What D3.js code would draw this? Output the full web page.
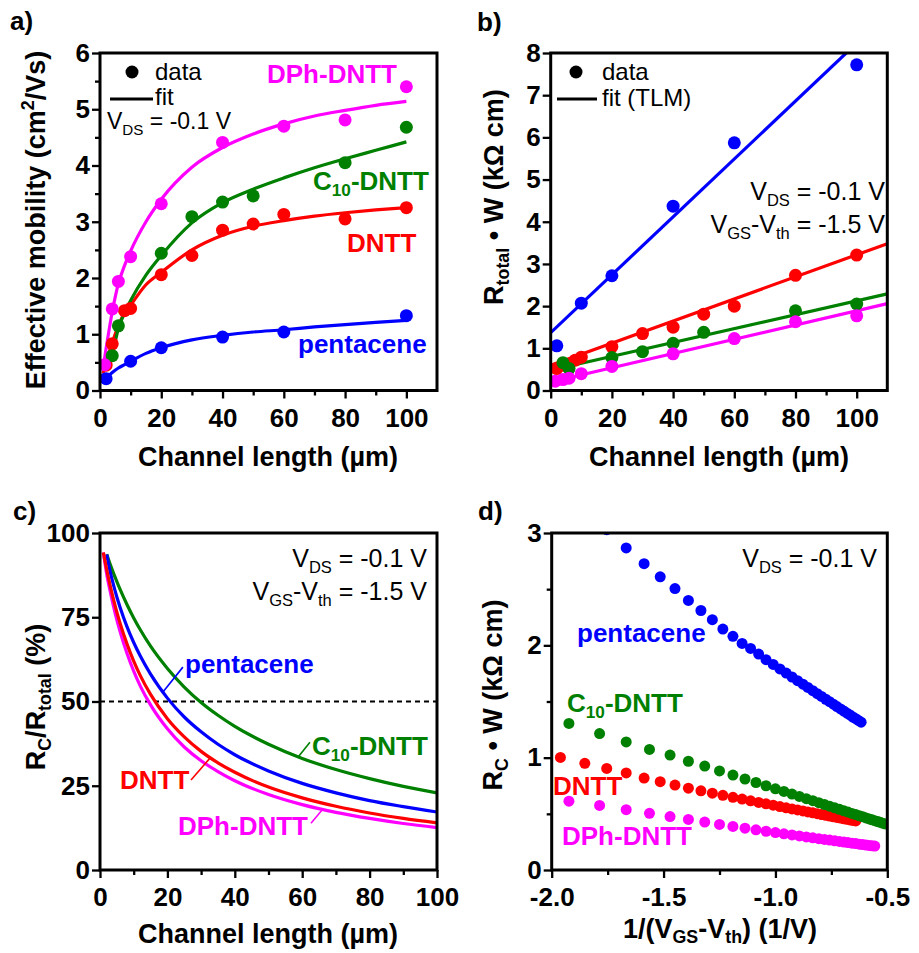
<!DOCTYPE html>
<html><head><meta charset="utf-8">
<script src="https://cdn.jsdelivr.net/npm/d3@7"></script>
<style>body{margin:0;background:#fff}svg{display:block}text{font-family:'Liberation Sans',Arial,Helvetica,sans-serif;white-space:pre}</style>
</head><body><svg id="c" width="919" height="953"></svg>
<script>
const BLUE="#0000ff", RED="#ff0000", GREEN="#008000", MAG="#ff00ff";

// ---------- Panel a: effective mobility vs channel length ----------
const a_L_pent=[2,10,20,40,60,100];
const a_mu_pent=[0.21,0.52,0.76,0.95,1.04,1.33];
const a_L_dntt=[2,4,8,10,20,30,40,50,60,80,100];
const a_mu_dntt=[0.45,0.83,1.42,1.46,2.06,2.40,2.85,2.96,3.13,3.05,3.25];
const a_L_c10=[4,6,20,30,40,50,80,100];
const a_mu_c10=[0.62,1.15,2.44,3.09,3.35,3.46,4.05,4.68];
const a_L_dph=[1.5,4,6,10,20,40,60,80,100];
const a_mu_dph=[0.46,1.45,1.94,2.38,3.32,4.41,4.70,4.81,5.40];
const a_fitL=[1,2,4,6,8,10,15,20,30,40,50,60,70,80,90,100];
const a_fit_pent=[0.17,0.22,0.32,0.40,0.46,0.52,0.66,0.76,0.90,0.98,1.04,1.08,1.13,1.17,1.21,1.245];
const a_fit_dntt=[0.30,0.50,0.85,1.15,1.38,1.52,1.88,2.10,2.50,2.76,2.92,3.02,3.10,3.16,3.21,3.25];
const a_fit_dph=[0.40,0.75,1.40,1.90,2.22,2.48,3.00,3.40,3.97,4.32,4.56,4.74,4.88,4.98,5.07,5.14];
const a_fitL_c10=[4,6,8,10,15,20,30,40,50,60,70,80,90,100];
const a_fit_c10=[0.62,1.10,1.38,1.60,2.05,2.40,2.98,3.34,3.58,3.78,3.96,4.12,4.27,4.42];
const a_xTicks=[0,20,40,60,80,100], a_xMinor=[10,30,50,70,90];
const a_yTicks=[0,1,2,3,4,5,6], a_yMinor=[0.5,1.5,2.5,3.5,4.5,5.5];

// ---------- Panel b: total resistance vs channel length ----------
const b_L_pent=[2,10,20,40,60,100];
const b_R_pent=[1.06,2.07,2.72,4.37,5.87,7.72];
const b_L_dntt=[2,4,8,10,20,30,40,50,60,80,100];
const b_R_dntt=[0.52,0.60,0.72,0.79,1.04,1.35,1.50,1.81,2.00,2.73,3.21];
const b_L_c10=[4,6,20,30,40,50,80,100];
const b_R_c10=[0.66,0.52,0.78,0.92,1.12,1.38,1.89,2.05];
const b_L_dph=[1.5,4,6,10,20,40,60,80,100];
const b_R_dph=[0.22,0.26,0.29,0.40,0.57,0.87,1.23,1.63,1.77];
const b_fitL=[0,110];
const b_fit_pent=[1.37,8.92];
const b_fit_dntt=[0.60,3.48];
const b_fit_c10=[0.48,2.29];
const b_fit_dph=[0.20,2.06];
const b_xTicks=[0,20,40,60,80,100], b_xMinor=[10,30,50,70,90];
const b_yTicks=[0,1,2,3,4,5,6,7,8];

// ---------- Panel c: contact resistance fraction ----------
const c_L=[1,2,3,4,5,6,8,10,12,15,20,25,30,35,40,50,60,70,80,90,100];
const c_green=[null,93.7,90.8,88.1,85.6,83.2,78.8,74.8,71.2,66.4,59.8,54.3,49.7,45.9,42.6,37.3,33.1,29.8,27.1,24.8,22.9];
const c_blue=[null,93.6,88.6,84.6,81.0,77.8,72.2,67.5,63.4,58.1,51.0,45.4,41.0,37.3,34.2,29.4,25.7,22.9,20.6,18.8,17.2];
const c_red=[94.2,89.1,84.5,80.3,76.5,73.1,67.1,62.0,57.6,52.1,44.9,39.5,35.2,31.8,29.0,24.6,21.4,18.9,16.9,15.3,14.0];
const c_mag=[94.2,87.8,82.8,78.3,74.2,70.6,64.3,59.0,54.5,49.0,41.9,36.5,32.4,29.2,26.5,22.4,19.4,17.1,15.3,13.8,12.6];
const c_half=[0,100];
const c_xTicks=[0,20,40,60,80,100], c_xMinor=[10,30,50,70,90];
const c_yTicks=[0,25,50,75,100];

// ---------- Panel d: contact resistance vs 1/(VGS-Vth) ----------
const d_x_dph=[-1.923,-1.786,-1.667,-1.563,-1.471,-1.389,-1.316,-1.250,-1.190,-1.136,-1.087,-1.042,-1.000,-0.962,-0.926,-0.893,-0.862,-0.833,-0.806,-0.781,-0.758,-0.735,-0.714,-0.694,-0.676,-0.658,-0.641,-0.625,-0.610,-0.595,-0.581,-0.568,-0.556];
const d_y_dph=[0.613,0.575,0.537,0.505,0.476,0.450,0.427,0.406,0.388,0.372,0.358,0.345,0.333,0.322,0.312,0.303,0.294,0.286,0.279,0.272,0.266,0.260,0.254,0.249,0.244,0.239,0.235,0.230,0.226,0.222,0.219,0.216,0.213];
const d_x_c10=[-1.923,-1.786,-1.667,-1.563,-1.471,-1.389,-1.316,-1.250,-1.190,-1.136,-1.087,-1.042,-1.000,-0.962,-0.926,-0.893,-0.862,-0.833,-0.806,-0.781,-0.758,-0.735,-0.714,-0.694,-0.676,-0.658,-0.641,-0.625,-0.610,-0.595,-0.581,-0.568,-0.556,-0.543,-0.532,-0.521,-0.510];
const d_y_c10=[1.305,1.215,1.140,1.073,1.023,0.968,0.925,0.882,0.845,0.810,0.779,0.750,0.723,0.699,0.676,0.655,0.635,0.617,0.599,0.583,0.568,0.554,0.540,0.527,0.516,0.504,0.493,0.483,0.474,0.464,0.455,0.447,0.439,0.431,0.424,0.417,0.410];
const d_x_dntt=[-1.961,-1.852,-1.754,-1.667,-1.587,-1.515,-1.449,-1.389,-1.333,-1.282,-1.235,-1.190,-1.149,-1.111,-1.075,-1.042,-1.010,-0.980,-0.952,-0.926,-0.901,-0.877,-0.855,-0.833,-0.813,-0.794,-0.775,-0.758,-0.741,-0.725,-0.709,-0.694,-0.680,-0.667,-0.654,-0.641];
const d_y_dntt=[1.002,0.950,0.904,0.864,0.818,0.786,0.756,0.728,0.705,0.684,0.665,0.647,0.631,0.616,0.602,0.589,0.577,0.565,0.554,0.544,0.535,0.526,0.517,0.509,0.501,0.494,0.487,0.480,0.474,0.468,0.462,0.456,0.451,0.446,0.441,0.437];
const d_x_pent=[-1.754,-1.667,-1.587,-1.515,-1.449,-1.389,-1.333,-1.282,-1.235,-1.190,-1.149,-1.111,-1.075,-1.042,-1.010,-0.980,-0.952,-0.926,-0.901,-0.877,-0.855,-0.833,-0.813,-0.794,-0.775,-0.758,-0.741,-0.725,-0.709,-0.694,-0.680,-0.667,-0.654,-0.641,-0.629,-0.617];
const d_y_pent=[3.03,2.867,2.727,2.610,2.505,2.400,2.310,2.228,2.145,2.080,2.017,1.972,1.922,1.872,1.830,1.790,1.753,1.718,1.685,1.654,1.625,1.596,1.570,1.545,1.520,1.498,1.476,1.455,1.434,1.415,1.396,1.380,1.362,1.347,1.331,1.316];
const d_xTicks=[-2,-1.5,-1,-0.5], d_xTickLabels=["-2.0","-1.5","-1.0","-0.5"], d_xMinor=[-1.75,-1.25,-0.75];
const d_yTicks=[0,1,2,3], d_yMinor=[0.5,1.5,2.5];

// ================= drawing =================
const svg=d3.select("#c");
svg.append("rect").attr("width",919).attr("height",953).attr("fill","#fff");
const zip=(xs,ys)=>xs.map((v,i)=>[v,ys[i]]).filter(d=>d[1]!=null);

function rich(parent,x,y,parts,o){
  const fs=o.size;
  const t=parent.append("text").attr("x",x).attr("y",y).attr("font-size",fs)
    .attr("font-weight",o.bold?"bold":"normal").attr("fill",o.color||"#000")
    .attr("text-anchor",o.anchor||"start");
  if(o.rotate) t.attr("transform",`rotate(-90,${x},${y})`);
  let shift=0;
  const sub=o.subShift!=null?o.subShift:0.24;
  parts.forEach(p=>{
    const s=Array.isArray(p)?p[0]:p, kind=Array.isArray(p)?p[1]:null;
    const target=kind==="sub"?sub*fs:kind==="sup"?-0.4*fs:0;
    const ts=t.append("tspan").text(s).attr("dy",target-shift);
    if(kind) ts.attr("font-size",fs*0.66);
    shift=target;
  });
  return t;
}

let clipN=0;
function panel(o){
  const x=d3.scaleLinear().domain(o.xd).range([o.l,o.r]);
  const y=d3.scaleLinear().domain(o.yd).range([o.b,o.t]);
  const id="clip"+(clipN++);
  svg.append("clipPath").attr("id",id).append("rect")
    .attr("x",o.l).attr("y",o.t).attr("width",o.r-o.l).attr("height",o.b-o.t);
  const st=s=>{s.select(".domain").remove();
    s.selectAll("line").attr("stroke","#000").attr("stroke-width",2.3);
    s.selectAll("text").attr("font-size",26).attr("font-weight","bold").attr("fill","#000")
     .attr("font-family","'Liberation Sans',Arial,sans-serif");};
  const g=svg.append("g");
  if(o.xMinor) g.append("g").attr("transform",`translate(0,${o.b})`)
    .call(d3.axisBottom(x).tickValues(o.xMinor).tickSize(5).tickFormat("")).call(st);
  g.append("g").attr("transform",`translate(0,${o.b})`)
    .call(d3.axisBottom(x).tickValues(o.xTicks).tickSize(8).tickPadding(10)
      .tickFormat(o.xLabels?((d,i)=>o.xLabels[i]):d3.format("d"))).call(st);
  if(o.yMinor) g.append("g").attr("transform",`translate(${o.l},0)`)
    .call(d3.axisLeft(y).tickValues(o.yMinor).tickSize(5).tickFormat("")).call(st);
  g.append("g").attr("transform",`translate(${o.l},0)`)
    .call(d3.axisLeft(y).tickValues(o.yTicks).tickSize(8).tickPadding(2).tickFormat(d3.format("d"))).call(st);
  const data=svg.append("g").attr("clip-path",`url(#${id})`);
  const frame=()=>svg.append("rect").attr("x",o.l).attr("y",o.t).attr("width",o.r-o.l).attr("height",o.b-o.t)
    .attr("fill","none").attr("stroke","#000").attr("stroke-width",3);
  return {x,y,data,frame};
}
function dots(P,pts,color,r){
  P.data.append("g").selectAll("circle").data(pts).join("circle")
    .attr("cx",d=>P.x(d[0])).attr("cy",d=>P.y(d[1])).attr("r",r).attr("fill",color);
}
function curve(P,pts,color,w,interp){
  P.data.append("path").datum(pts).attr("fill","none").attr("stroke",color).attr("stroke-width",w)
    .attr("d",d3.line().x(d=>P.x(d[0])).y(d=>P.y(d[1])).curve(interp||d3.curveMonotoneX));
}

// ---------- Panel a ----------
{
const P=panel({l:100,r:437,t:53,b:390.5,xd:[0,110],yd:[0,6],xTicks:a_xTicks,xMinor:a_xMinor,yTicks:a_yTicks,yMinor:a_yMinor});
curve(P,zip(a_fitL,a_fit_dntt),RED,3.2);
curve(P,zip(a_fitL_c10,a_fit_c10),GREEN,3.2);
curve(P,zip(a_fitL,a_fit_dph),MAG,3.2);
curve(P,zip(a_fitL,a_fit_pent),BLUE,3.2);
dots(P,zip(a_L_dntt,a_mu_dntt),RED,6.5);
dots(P,zip(a_L_c10,a_mu_c10),GREEN,6.5);
dots(P,zip(a_L_dph,a_mu_dph),MAG,6.5);
dots(P,zip(a_L_pent,a_mu_pent),BLUE,6.5);
P.frame();
rich(svg,10,30,["a)"],{size:26,bold:true});
rich(svg,45,220,["Effective mobility (cm",["2","sup"],"/Vs)"],{size:27,bold:true,anchor:"middle",rotate:true});
rich(svg,268,466,["Channel length (µm)"],{size:27,bold:true,anchor:"middle"});
svg.append("circle").attr("cx",132).attr("cy",72).attr("r",6.5).attr("fill","#000");
rich(svg,155,80,["data"],{size:24});
svg.append("line").attr("x1",110).attr("x2",153).attr("y1",99).attr("y2",99).attr("stroke","#000").attr("stroke-width",3);
rich(svg,155,105,["fit"],{size:24});
rich(svg,107,129,["V",["DS","sub"]," = -0.1 V"],{size:23});
rich(svg,267,83,["DPh-DNTT"],{size:26,bold:true,color:MAG});
rich(svg,313,190,["C",["10","sub"],"-DNTT"],{size:26,bold:true,color:GREEN});
rich(svg,347,252,["DNTT"],{size:26,bold:true,color:RED});
rich(svg,298,353,["pentacene"],{size:26,bold:true,color:BLUE});
}

// ---------- Panel b ----------
{
const P=panel({l:550.7,r:887.3,t:53,b:390.5,xd:[0,110],yd:[0,8],xTicks:b_xTicks,xMinor:b_xMinor,yTicks:b_yTicks});
curve(P,zip(b_fitL,b_fit_pent),BLUE,3.2,d3.curveLinear);
curve(P,zip(b_fitL,b_fit_dntt),RED,3.2,d3.curveLinear);
curve(P,zip(b_fitL,b_fit_c10),GREEN,3.2,d3.curveLinear);
curve(P,zip(b_fitL,b_fit_dph),MAG,3.2,d3.curveLinear);
dots(P,zip(b_L_dntt,b_R_dntt),RED,6.5);
dots(P,zip(b_L_c10,b_R_c10),GREEN,6.5);
dots(P,zip(b_L_dph,b_R_dph),MAG,6.5);
dots(P,zip(b_L_pent,b_R_pent),BLUE,6.5);
P.frame();
rich(svg,477,31,["b)"],{size:26,bold:true});
rich(svg,503,197,["R",["total","sub"]," • W (kΩ cm)"],{size:27,bold:true,anchor:"middle",rotate:true});
rich(svg,719,466,["Channel length (µm)"],{size:27,bold:true,anchor:"middle"});
svg.append("circle").attr("cx",576).attr("cy",72).attr("r",6.5).attr("fill","#000");
rich(svg,602,80,["data"],{size:24});
svg.append("line").attr("x1",557).attr("x2",597).attr("y1",99).attr("y2",99).attr("stroke","#000").attr("stroke-width",3);
rich(svg,602,106,["fit (TLM)"],{size:24});
rich(svg,885,200,["V",["DS","sub"]," = -0.1 V"],{size:25,anchor:"end"});
rich(svg,885,233,["V",["GS","sub"],"-V",["th","sub"]," = -1.5 V"],{size:25,anchor:"end"});
}

// ---------- Panel c ----------
{
const P=panel({l:100,r:437,t:533,b:870,xd:[0,100],yd:[0,100],xTicks:c_xTicks,xMinor:c_xMinor,yTicks:c_yTicks});
P.data.append("line").attr("x1",P.x(c_half[0])).attr("x2",P.x(c_half[1])).attr("y1",P.y(50)).attr("y2",P.y(50))
  .attr("stroke","#000").attr("stroke-width",2).attr("stroke-dasharray","5,4");
curve(P,zip(c_L,c_green),GREEN,3.2);
curve(P,zip(c_L,c_blue),BLUE,3.2);
curve(P,zip(c_L,c_mag),MAG,3.2);
curve(P,zip(c_L,c_red),RED,3.2);
const ptr=(x1,y1,x2,y2,c)=>svg.append("line").attr("x1",P.x(x1)).attr("y1",P.y(y1)).attr("x2",P.x(x2)).attr("y2",P.y(y2)).attr("stroke",c).attr("stroke-width",1.6);
ptr(24.6,60.2,18.8,53,BLUE);
ptr(62.3,37.9,58.8,33.5,GREEN);
ptr(27,26.7,32.9,33.5,RED);
ptr(62.6,13.9,65.9,17.8,MAG);
P.frame();
rich(svg,13,520,["c)"],{size:26,bold:true});
rich(svg,45,697,["R",["C","sub"],"/R",["total","sub"]," (%)"],{size:27,bold:true,anchor:"middle",rotate:true});
rich(svg,268,943,["Channel length (µm)"],{size:27,bold:true,anchor:"middle"});
rich(svg,427,567,["V",["DS","sub"]," = -0.1 V"],{size:25,anchor:"end"});
rich(svg,427,600,["V",["GS","sub"],"-V",["th","sub"]," = -1.5 V"],{size:25,anchor:"end"});
rich(svg,185,673,["pentacene"],{size:26,bold:true,color:BLUE});
rich(svg,312,755,["C",["10","sub"],"-DNTT"],{size:26,bold:true,color:GREEN});
rich(svg,120,789,["DNTT"],{size:26,bold:true,color:RED});
rich(svg,178,835,["DPh-DNTT"],{size:26,bold:true,color:MAG});
}

// ---------- Panel d ----------
{
const P=panel({l:551.7,r:887.3,t:533,b:870,xd:[-2,-0.5],yd:[0,3],xTicks:d_xTicks,xLabels:d_xTickLabels,xMinor:d_xMinor,yTicks:d_yTicks,yMinor:d_yMinor});
dots(P,zip(d_x_pent,d_y_pent),BLUE,5.5);
dots(P,zip(d_x_dntt,d_y_dntt),RED,5.5);
dots(P,zip(d_x_c10,d_y_c10),GREEN,5.5);
dots(P,zip(d_x_dph,d_y_dph),MAG,5.5);
P.frame();
rich(svg,478,520,["d)"],{size:26,bold:true});
rich(svg,502,695,["R",["C","sub"]," • W (kΩ cm)"],{size:27,bold:true,anchor:"middle",rotate:true});
rich(svg,720,938,["1/(V",["GS","sub"],"-V",["th","sub"],") (1/V)"],{size:27,bold:true,anchor:"middle",subShift:0.2});
rich(svg,877,567,["V",["DS","sub"]," = -0.1 V"],{size:25,anchor:"end"});
rich(svg,577,642,["pentacene"],{size:26,bold:true,color:BLUE});
rich(svg,567,712,["C",["10","sub"],"-DNTT"],{size:26,bold:true,color:GREEN});
rich(svg,553,795,["DNTT"],{size:26,bold:true,color:RED});
rich(svg,562,845,["DPh-DNTT"],{size:26,bold:true,color:MAG});
}
</script></body></html>
